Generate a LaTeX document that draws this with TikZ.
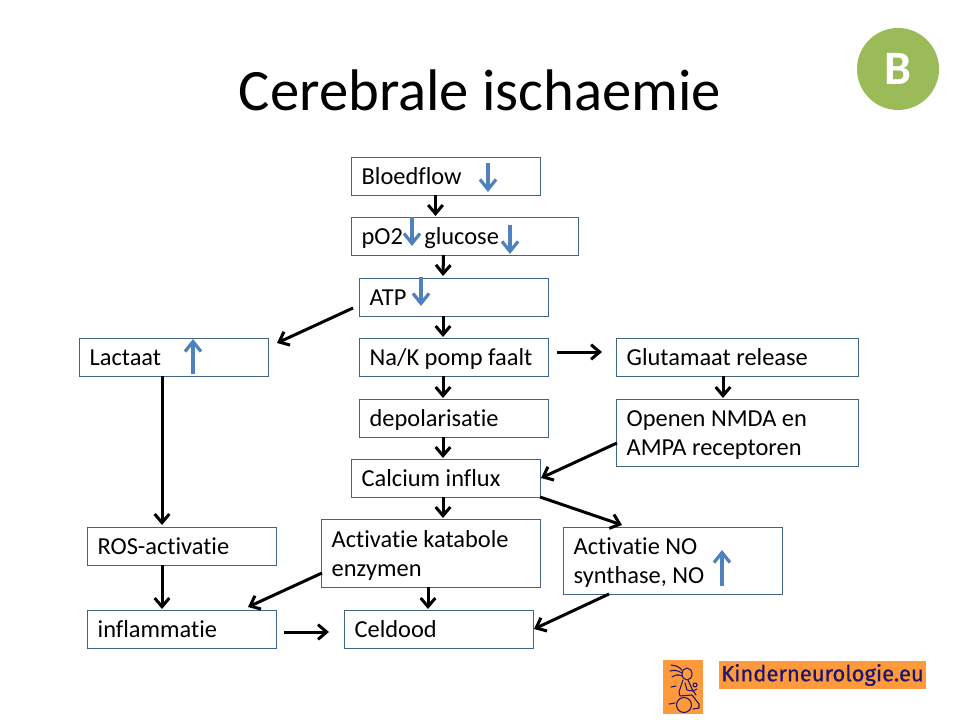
\documentclass[tikz,border=0pt]{standalone}
\usepackage{fontspec}
\setmainfont[Ligatures=NoCommon]{Carlito}
\newfontfamily\logofont[FakeBold=0.6]{Fira Sans}
\usetikzlibrary{arrows.meta,calc}
\definecolor{boxline}{HTML}{41658A}
\definecolor{bluearrow}{HTML}{4F81BD}
\definecolor{badge}{HTML}{9BBB59}
\definecolor{logobg}{HTML}{FF9A3C}
\definecolor{logoink}{HTML}{1F1470}
\newcommand{\linestrut}{\rule[-4.5pt]{0pt}{21.75pt}}
\tikzset{
  x=0.75pt,y=-0.75pt,
  bx/.style n args={2}{draw=boxline,line width=0.65pt,anchor=north west,outer sep=0pt,
    inner xsep=8pt,inner ysep=0pt,align=flush left,font=\fontsize{18.3pt}{21.75pt}\selectfont,
    text width=#1*0.75pt-16pt,minimum height=#2*0.75pt,
    execute at begin node=\linestrut,execute at end node=\linestrut},
  flow/.style={draw=black,line width=2.25pt,-{Straight Barb[length=6.5pt,width=11pt,line width=2.25pt]}},
  level/.style={draw=bluearrow,line width=2.4pt,-{Straight Barb[length=7.5pt,width=12pt,line width=2.4pt]}},
  logoline/.style={draw=logoink,line width=0.8pt,line cap=round,line join=round}
}
\begin{document}
\begin{tikzpicture}
\useasboundingbox (0,0) rectangle (960,720);
\fill[white] (0,0) rectangle (960,720);
\node[font=\fontsize{44pt}{52pt}\selectfont] (title) at (480,90) {Cerebrale ischaemie};
\node[circle,fill=badge,minimum size=61.5pt,inner sep=0pt,text=white,font=\fontsize{36pt}{38pt}\selectfont\bfseries] (badge) at (898,69) {B};

\node[bx={189}{38}] (flow) at (351,157) {Bloedflow};
\node[bx={227}{38}] (po2) at (351,217) {pO2\hspace{16pt}glucose};
\node[bx={189}{38}] (atp) at (359,278) {ATP};
\node[bx={189}{38}] (nak) at (359,338) {Na/K pomp faalt};
\node[bx={189}{38}] (lact) at (79,338) {Lactaat};
\node[bx={242}{38}] (glut) at (616,338) {Glutamaat release};
\node[bx={189}{38}] (depol) at (359,399) {depolarisatie};
\node[bx={242}{67}] (nmda) at (616,399) {Openen NMDA en\\AMPA receptoren};
\node[bx={189}{38}] (ca) at (351,459) {Calcium influx};
\node[bx={219}{68}] (kat) at (321,519) {Activatie katabole\\enzymen};
\node[bx={219}{67}] (no) at (563,527) {Activatie NO\\synthase, NO};
\node[bx={189}{38}] (ros) at (87,527) {ROS-activatie};
\node[bx={189}{38}] (infl) at (87,610) {inflammatie};
\node[bx={189}{38}] (dood) at (344,610) {Celdood};

\coordinate (gluta) at (602,352);
\coordinate (glutb) at (557,352);
\coordinate (cda) at (284,632);
\coordinate (cdb) at (329,632);

\draw[flow] ($(flow.south)+(-10,0)$) -- ($(po2.north)+(-29,-1)$);
\draw[flow] ($(po2.south)+(-21,0)$) -- ($(atp.north)+(-10.5,-2)$);
\draw[flow] ($(atp.south)+(-10.5,0)$) -- ($(nak.north)+(-10.5,-1)$);
\draw[flow] ($(atp.west)+(-6,11)$) -- ($(lact.north east)+(9,5)$);
\draw[flow] (glutb) -- (gluta);
\draw[flow] ($(glut.south)+(-14,0)$) -- ($(nmda.north)+(-14,-1)$);
\draw[flow] ($(nak.south)+(-10.5,0)$) -- ($(depol.north)+(-10.5,-1)$);
\draw[flow] ($(depol.south)+(-10.5,0)$) -- ($(ca.north)+(-2.5,-1)$);
\draw[flow] ($(ca.south)+(-2.5,0)$) -- ($(kat.north)+(12.5,-1)$);
\draw[flow] ($(kat.south)+(-2.5,0)$) -- ($(dood.north)+(-10.5,-1)$);
\draw[flow] ($(nmda.south west)+(1,-23)$) -- ($(ca.east)+(1,0)$);
\draw[flow] (ca.south east) -- ($(no.north)+(-50.5,-2)$);
\draw[flow] ($(kat.south west)+(1,-14)$) -- ($(infl.north east)+(-28,-3)$);
\draw[flow] ($(no.south)+(-63.5,0)$) -- ($(dood.east)+(1,0)$);
\draw[flow] ($(lact.south)+(-11.5,0)$) -- ($(ros.north)+(-19.5,-2)$);
\draw[flow] ($(ros.south)+(-19.5,0)$) -- ($(infl.north)+(-19.5,-1)$);
\draw[flow] (cda) -- (cdb);

\coordinate (a1) at (488,163); \coordinate (b1) at (488,192);
\coordinate (a2) at (412,217); \coordinate (b2) at (412,246);
\coordinate (a3) at (510,225); \coordinate (b3) at (510,254);
\coordinate (a4) at (421,277); \coordinate (b4) at (421,306);
\coordinate (a5) at (193,374); \coordinate (b5) at (193,339);
\coordinate (a6) at (722,586); \coordinate (b6) at (722,550);
\foreach \n in {1,...,6} \draw[level] (a\n) -- (b\n);

\node[fill=logobg,minimum width=155.25pt,minimum height=21pt,inner sep=0pt,text=logoink,font=\logofont\fontsize{16.5pt}{18pt}\selectfont] (logotext) at (822.5,675) {Kinderneurologie.eu};
\fill[logobg] (663,660) rectangle (703,714);
\draw[logoline] (684,705) circle (7.5);
\draw[logoline] (687,674) ellipse (5 and 6);
\draw[logoline] (682,670) .. controls (677,665) and (675,666) .. (671,665);
\draw[logoline] (682,673) .. controls (677,670) and (674,670) .. (670,671);
\draw[logoline] (682,676) .. controls (678,674) and (675,675) .. (672,677);
\draw[logoline] (683,680) -- (679,692) -- (680,696) -- (692,695) -- (699,704) -- (699,708) -- (693,709);
\draw[logoline] (688,680) -- (692,689) -- (696,695);
\draw[logoline] (685,683) -- (687,690) -- (693,691) -- (697,689);
\draw[logoline] (695,685) circle (2);
\draw[logoline] (671,687) -- (676,686);
\draw[logoline] (669,704) -- (675,703);
\end{tikzpicture}
\end{document}
